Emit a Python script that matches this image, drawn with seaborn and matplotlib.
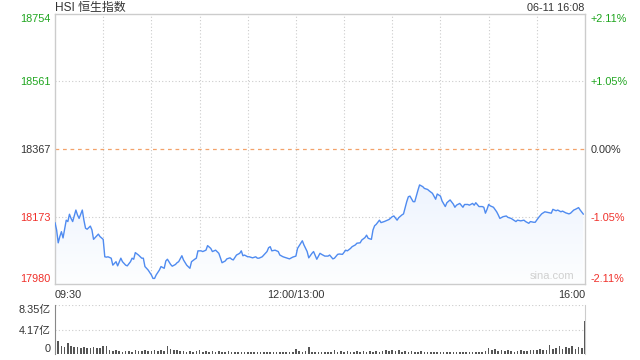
import matplotlib
matplotlib.use("Agg")
import numpy as np
import pandas as pd
import seaborn as sns
import matplotlib.pyplot as plt
from matplotlib.colors import LinearSegmentedColormap

# ---------------- data ----------------
minutes = [0,1,2,3,4,5,7,8,9,10,11,13,14,15,17,18,19,20,22,23,24,26,27,28,30,31,32,33,35,36,
           38,39,41,42,44,45,47,48,49,50,52,54,55,56,58,60,61,62,63,65,66,68,
           69,70,72,73,75,76,77,79,80,82,84,85,87,88,89,91,92,94,95,97,98,99,100,102,103,104,
           106,107,109,110,111,113,115,116,117,118,120,121,123,125,126,127,129,130,132,133,
           134,135,137,139,140,142,144,146,148,150,
           151,154,155,157,158,160,161,163,165,166,168,170,171,173,174,176,177,179,181,182,
           184,185,187,188,190,191,193,194,195,197,198,199,
           200,202,203,205,208,210,211,213,214,216,217,219,220,221,223,224,226,227,229,230,
           232,233,235,237,238,240,241,243,244,246,248,249,250,252,254,255,257,258,260,261,
           262,264,266,267,268,269,270,271,273,275,276,277,279,281,282,284,285,287,288,290,
           292,293,295,296,298,299,301,303,305,307,309,310,312,313,315,316,318,320,321,323,
           324,326,327,329]
prices = [18156,18135,18098,18116,18130,18112,18163,18159,18180,18168,
          18159,18192,18178,18168,18192,18163,18140,18137,18146,18135,
          18108,18118,18123,18116,18108,18058,18057,18058,18054,18034,
          18044,18032,18054,18044,18034,18032,18044,18054,18051,18070,
          18063,18054,18054,18030,18020,18006,17996,17996,18006,18020,
          18030,18025,
          18046,18051,18036,18031,18036,18041,18044,18061,18049,18034,
          18025,18044,18051,18054,18075,18075,18073,18077,18090,18082,
          18073,18075,18077,18068,18055,18041,18046,18052,18055,18051,
          18049,18063,18068,18075,18061,18063,18058,18058,18055,18058,
          18054,18054,18058,18063,18073,18084,
          18087,18075,18077,18073,18063,18058,18055,18052,18057,18060,
          18082,18104,18092,18073,18055,18068,18073,18051,18068,18065,
          18060,18060,18063,18052,18054,18065,18066,18065,18077,18075,
          18082,18087,18092,18097,18098,18106,18113,18120,18111,18108,
          18135,18147,
          18151,18163,18156,18159,18165,18173,18175,18163,18170,18178,
          18181,18216,18230,18232,18216,18216,18249,18264,18259,18254,
          18251,18247,18240,18223,18238,18232,18218,18202,18213,18221,
          18209,18200,18206,18211,18200,18208,18208,18206,18211,18206,
          18213,18202,18202,18200,18183,18194,18208,18204,18200,18187,
          18178,18168,18173,18175,18171,18168,18165,18159,18163,18161,
          18163,18159,18154,18159,18157,18157,18170,18181,18187,18185,
          18183,18194,18190,18192,18187,18189,18184,18181,18183,18192,
          18194,18199,18192,18180]

vol_minutes = list(range(0, 330, 2)) + [330]
volumes = [1.8,2.2,1.3,1.2,1.9,1.4,1.2,1.2,1.1,1.2,
           1.1,1.0,1.2,1.1,1.0,1.3,1.4,0.6,0.5,0.6,
           0.5,0.4,0.5,0.5,0.4,0.6,0.5,0.5,0.6,0.5,
           0.5,0.6,0.5,0.6,0.5,1.3,0.8,0.7,0.6,0.5,
           0.5,0.4,0.5,0.4,0.5,0.6,0.4,0.5,0.4,0.5,
           0.4,0.5,0.4,0.4,0.5,0.4,0.3,0.4,0.4,0.3,
           0.3,0.3,0.3,0.4,0.3,0.3,0.3,0.4,0.3,0.3,
           0.3,0.3,0.3,0.3,0.3,0.9,0.5,0.4,0.5,1.2,
           0.4,0.3,0.3,0.4,0.3,0.4,0.3,0.7,0.4,0.5,
           0.4,0.5,0.4,0.4,0.5,0.4,0.5,0.4,0.5,0.4,
           0.5,0.4,0.5,0.6,0.5,0.6,0.5,0.6,0.4,0.5,
           0.4,0.5,0.4,0.4,0.5,0.4,0.4,0.3,0.4,0.4,
           0.3,0.4,0.3,0.3,0.4,0.3,0.3,0.4,0.3,0.4,
           0.3,0.3,0.4,0.3,0.5,1.0,0.6,0.8,0.5,0.6,
           0.5,0.6,0.5,0.4,0.5,0.6,0.5,0.5,0.6,0.7,
           0.6,0.8,0.7,0.6,1.5,0.9,1.1,1.3,0.8,1.2,
           1.0,1.3,0.9,1.2,1.1,
           5.6]

price_ticks = [17980, 18173, 18367, 18561, 18754]
price_tick_colors = ["#f0302a", "#f0302a", "#333333", "#1ea51e", "#1ea51e"]
pct_labels = ["-2.11%", "-1.05%", "0.00%", "+1.05%", "+2.11%"]
prev_close = 18367
time_ticks = [0, 150, 330]
time_labels = ["09:30", "12:00/13:00", "16:00"]
grid_minutes = [30, 60, 90, 120, 150, 180, 210, 240, 270, 300]
vol_ticks = [0, 4.17, 8.35]
vol_labels = ["0", "4.17亿", "8.35亿"]
title = "HSI 恒生指数"
stamp = "06-11 16:08"

# ---------------- style ----------------
sns.set_style("white")
plt.rcParams["font.family"] = ["Liberation Sans", "Noto Sans CJK SC", "DejaVu Sans"]

fig = plt.figure(figsize=(6.4, 3.6), dpi=100)
W, H = 640.0, 360.0
ax = fig.add_axes([55 / W, 1 - 284 / H, 530 / W, 270 / H])
axv = fig.add_axes([55 / W, 1 - 354 / H, 530 / W, 49 / H])

line_color = "#4f8bf0"
grid_color = "#cccccc"

# price line
df = pd.DataFrame({"m": minutes, "p": prices})
sns.lineplot(data=df, x="m", y="p", ax=ax, color=line_color, linewidth=1.0, zorder=4)

# gradient fill under the line
poly = ax.fill_between(df["m"], df["p"], price_ticks[0], color="none", linewidth=0)
cmap = LinearSegmentedColormap.from_list("g", ["#fdfeff", "#eef4fe"])
img = ax.imshow(np.linspace(0, 1, 256).reshape(-1, 1), aspect="auto", cmap=cmap,
                extent=[0, 330, price_ticks[0], max(prices)], origin="lower", zorder=2)
img.set_clip_path(poly.get_paths()[0], transform=ax.transData)

ax.set_xlim(0, 330)
ax.set_ylim(price_ticks[0], price_ticks[-1])
ax.set_aspect("auto")

for t in (price_ticks[1], price_ticks[3]):
    ax.axhline(t, color=grid_color, linestyle=(0, (1, 2)), linewidth=0.8, zorder=1)
ax.axhline(prev_close, color="#f3a26a", linestyle=(0, (3, 3)), linewidth=0.9, zorder=1)
for m in grid_minutes:
    ax.axvline(m, color=grid_color, linestyle=(0, (1, 2)), linewidth=0.8, zorder=1)

for s in ax.spines.values():
    s.set_color(grid_color)
    s.set_linewidth(1.0)
    s.set_visible(True)

ax.set_xlabel("")
ax.set_ylabel("")
ax.set_yticks(price_ticks)
ax.set_yticklabels([str(t) for t in price_ticks])
ax.tick_params(axis="y", length=0, pad=3, labelsize=7.8)
for lab, c in zip(ax.get_yticklabels(), price_tick_colors):
    lab.set_color(c)
ylabs = ax.get_yticklabels()
ylabs[0].set_verticalalignment("bottom")
ylabs[-1].set_verticalalignment("top")

ax.set_xticks(time_ticks)
ax.set_xticklabels(time_labels)
ax.tick_params(axis="x", length=0, pad=4, labelsize=7.8, labelcolor="#333333")
xl = ax.get_xticklabels()
xl[0].set_horizontalalignment("left")
xl[-1].set_horizontalalignment("right")

# right percentage axis
ax2 = ax.twinx()
ax2.set_ylim(price_ticks[0], price_ticks[-1])
ax2.set_yticks(price_ticks)
ax2.set_yticklabels(pct_labels)
ax2.tick_params(axis="y", length=0, pad=4, labelsize=7.8)
for lab, c in zip(ax2.get_yticklabels(), price_tick_colors):
    lab.set_color(c)
r = ax2.get_yticklabels()
r[0].set_verticalalignment("bottom")
r[-1].set_verticalalignment("top")
for s in ax2.spines.values():
    s.set_visible(False)

ax.text(0.98, 0.012, "sina.com", transform=ax.transAxes, ha="right", va="bottom",
        fontsize=8, color="#d0d0d0", zorder=5)

# volume bars
dv = pd.DataFrame({"m": vol_minutes, "v": volumes})
sns.barplot(data=dv, x="m", y="v", ax=axv, native_scale=True, width=0.5,
            color="#555555", saturation=1, errorbar=None, linewidth=0)
axv.set_xlim(0, 330)
axv.set_ylim(0, vol_ticks[-1])
axv.set_xlabel("")
axv.set_ylabel("")
axv.set_xticks([])
for t in vol_ticks[1:]:
    axv.axhline(t, color=grid_color, linestyle=(0, (1, 2)), linewidth=0.8, zorder=0)
axv.set_yticks(vol_ticks)
axv.set_yticklabels(vol_labels)
axv.tick_params(axis="y", length=0, pad=3, labelsize=7.8, labelcolor="#333333")
vl = axv.get_yticklabels()
vl[0].set_verticalalignment("bottom")
vl[-1].set_verticalalignment("top")
axv.spines["top"].set_visible(False)
axv.spines["bottom"].set_visible(False)
axv.spines["left"].set_color("#888888")
axv.spines["right"].set_color(grid_color)

fig.text(55 / W, 1 - 8 / H, title, ha="left", va="center", fontsize=8.6, color="#333333")
fig.text(584 / W, 1 - 8 / H, stamp, ha="right", va="center", fontsize=7.8, color="#333333")

fig.savefig("out.png", dpi=100)
